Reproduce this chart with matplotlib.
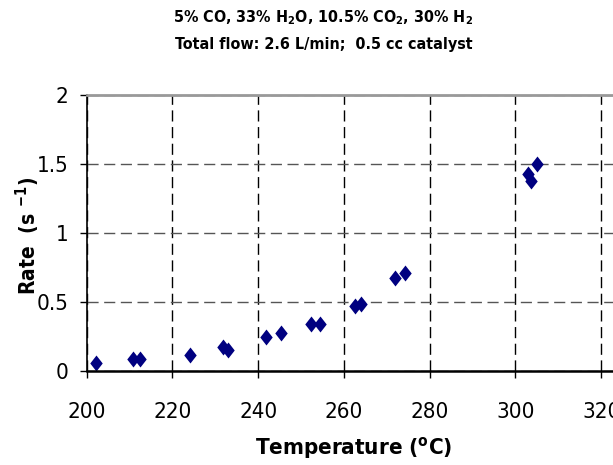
import matplotlib
matplotlib.use("Agg")
import matplotlib.pyplot as plt
from matplotlib import font_manager

# ---- data ----
temps = [202.1, 210.7, 212.4, 224.1, 231.9, 233.0, 241.8, 245.3, 252.4, 254.4,
         262.6, 263.9, 271.9, 274.2, 302.9, 303.6, 305.0]
rates = [0.06, 0.09, 0.09, 0.12, 0.175, 0.155, 0.245, 0.28, 0.345, 0.345,
         0.47, 0.49, 0.675, 0.71, 1.43, 1.38, 1.50]
xticks = [200, 220, 240, 260, 280, 300, 320]
yticks = [0, 0.5, 1, 1.5, 2]
ytick_labels = ["0", "0.5", "1", "1.5", "2"]
title1 = "5% CO, 33% H$_\\mathbf{2}$O, 10.5% CO$_\\mathbf{2}$, 30% H$_\\mathbf{2}$"
title2 = "Total flow: 2.6 L/min;  0.5 cc catalyst"
xlabel = "Temperature ($^\\mathbf{o}$C)"
ylabel = "Rate  (s $^\\mathbf{-1}$)"

# narrow sans font: prefer a metric clone of Arial Narrow, else condensed DejaVu
names = {f.name for f in font_manager.fontManager.ttflist}
if "Liberation Sans Narrow" in names:
    fam, stretch = "Liberation Sans Narrow", "normal"
else:
    fam, stretch = "DejaVu Sans", "condensed"
plt.rcParams['font.family'] = [fam, 'DejaVu Sans']
plt.rcParams['font.stretch'] = stretch
plt.rcParams['mathtext.fontset'] = 'custom'
plt.rcParams['mathtext.rm'] = f"{fam}:stretch={stretch}"
plt.rcParams['mathtext.bf'] = f"{fam}:weight=bold:stretch={stretch}"

W, H = 613, 465
fig = plt.figure(figsize=(W / 100, H / 100), dpi=100)
x0, x1 = 86.7, 644.0
y0, y1 = 371.3, 95.3
ax = fig.add_axes([x0 / W, 1 - y0 / H, (x1 - x0) / W, (y0 - y1) / H])

diamond = [(0, 1), (0.78, 0), (0, -1), (-0.78, 0), (0, 1)]
ax.plot(temps, rates, linestyle='none', marker=diamond, markersize=11.5,
        color='#000080', markeredgewidth=0)

ax.set_xlim(200, 330)
ax.set_ylim(0, 2)
ax.set_xticks(xticks)
ax.set_xticklabels([str(t) for t in xticks])
ax.set_yticks(yticks)
ax.set_yticklabels(ytick_labels)
ax.tick_params(axis='both', labelsize=16, direction='out', length=5, width=1, color='black')
ax.tick_params(axis='x', pad=17)
ax.tick_params(axis='y', pad=8)

ax.xaxis.grid(True, linestyle=(0, (8, 4)), color='black', linewidth=1)
ax.yaxis.grid(True, linestyle=(0, (8, 4)), color='#555555', linewidth=1)
ax.set_axisbelow(True)

ax.spines['top'].set_color('#999999')
ax.spines['top'].set_linewidth(2)
ax.spines['right'].set_visible(False)
ax.spines['left'].set_color('black')
ax.spines['left'].set_linewidth(1.2)
ax.spines['bottom'].set_color('black')
ax.spines['bottom'].set_linewidth(1.8)

ax.set_xlabel(xlabel, fontsize=16, fontweight='bold', va='center', ha='center')
ax.xaxis.set_label_coords((354 - x0) / (x1 - x0), (y0 - 448) / (y0 - y1))
ax.set_ylabel(ylabel, fontsize=15, fontweight='bold', va='center', ha='center')
ax.yaxis.set_label_coords((28 - x0) / (x1 - x0), (y0 - 236) / (y0 - y1))

fig.text(323 / W, 1 - 18 / H, title1, fontsize=11.5, fontweight='bold', ha='center', va='center')
fig.text(324 / W, 1 - 45 / H, title2, fontsize=11.5, fontweight='bold', ha='center', va='center')

fig.savefig("out.png", dpi=100, facecolor='white')
